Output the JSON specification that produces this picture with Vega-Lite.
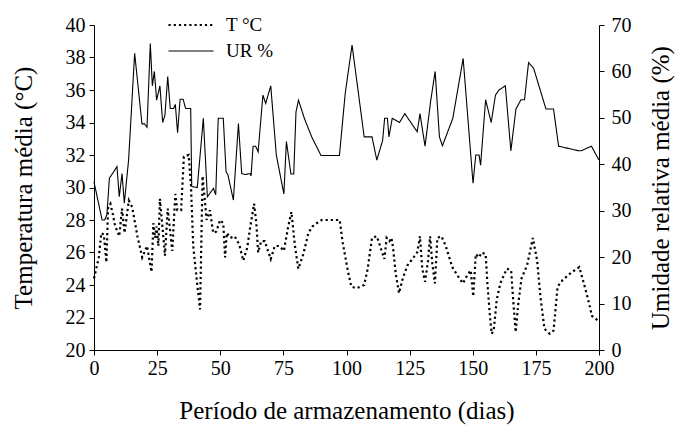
{
  "$schema": "https://vega.github.io/schema/vega-lite/v6.json",
  "width": 505,
  "height": 325,
  "autosize": {"type": "none"},
  "padding": {"left": 94, "top": 25, "right": 84, "bottom": 84},
  "background": "white",
  "config": {
    "view": {"stroke": null},
    "font": "Liberation Serif",
    "axis": {
      "grid": false,
      "domainColor": "black",
      "tickColor": "black",
      "labelColor": "black",
      "titleColor": "black",
      "labelFont": "Liberation Serif",
      "titleFont": "Liberation Serif",
      "labelFontSize": 20,
      "titleFontSize": 25,
      "titleFontWeight": "normal",
      "tickSize": 5,
      "domainWidth": 1,
      "tickWidth": 1,
      "labelFlush": false
    },
    "legend": {
      "labelFont": "Liberation Serif",
      "labelFontSize": 19,
      "labelColor": "black"
    }
  },
  "datasets": {
    "temp": [
      {"dia": 0, "T": 24.4}, {"dia": 1.9, "T": 25.7}, {"dia": 2.9, "T": 27.2}, {"dia": 3.9, "T": 27.1},
      {"dia": 4.9, "T": 25.4}, {"dia": 5.6, "T": 28.8}, {"dia": 6.5, "T": 29.0}, {"dia": 7.4, "T": 28.4},
      {"dia": 8.4, "T": 27.6}, {"dia": 9, "T": 27.4}, {"dia": 10, "T": 27.0}, {"dia": 11.1, "T": 28.7},
      {"dia": 12.1, "T": 27.2}, {"dia": 13.8, "T": 29.2}, {"dia": 15.1, "T": 28.8}, {"dia": 17.2, "T": 27.0},
      {"dia": 19.1, "T": 25.7}, {"dia": 21, "T": 26.4}, {"dia": 22.8, "T": 24.8}, {"dia": 23.5, "T": 27.8},
      {"dia": 24.2, "T": 26.9}, {"dia": 24.8, "T": 27.6}, {"dia": 25.5, "T": 26.4}, {"dia": 26.1, "T": 29.3},
      {"dia": 27.5, "T": 26.9}, {"dia": 28.1, "T": 25.8}, {"dia": 29.2, "T": 28.7}, {"dia": 30.1, "T": 27.4},
      {"dia": 31, "T": 26.1}, {"dia": 32.2, "T": 29.6}, {"dia": 33, "T": 28.6}, {"dia": 34.5, "T": 28.6},
      {"dia": 35.6, "T": 31.9}, {"dia": 37.5, "T": 32.0}, {"dia": 38.4, "T": 30.1}, {"dia": 39.3, "T": 26.4},
      {"dia": 40.9, "T": 24.0}, {"dia": 42, "T": 22.5}, {"dia": 43, "T": 30.7}, {"dia": 44.6, "T": 28.0},
      {"dia": 45.9, "T": 28.6}, {"dia": 47.2, "T": 27.2}, {"dia": 48.5, "T": 27.3}, {"dia": 49.9, "T": 28.0},
      {"dia": 51.2, "T": 27.8}, {"dia": 51.9, "T": 25.7}, {"dia": 52.6, "T": 27.2}, {"dia": 54, "T": 26.9},
      {"dia": 55.7, "T": 27.0}, {"dia": 57.5, "T": 26.5}, {"dia": 59.1, "T": 25.5}, {"dia": 60.7, "T": 26.3},
      {"dia": 61.7, "T": 27.4}, {"dia": 63.4, "T": 29.0}, {"dia": 64.3, "T": 27.8}, {"dia": 65, "T": 26.0},
      {"dia": 66.2, "T": 26.7}, {"dia": 67.6, "T": 26.7}, {"dia": 70, "T": 25.6}, {"dia": 71.6, "T": 26.4},
      {"dia": 73.4, "T": 26.4}, {"dia": 75.2, "T": 26.1}, {"dia": 76.8, "T": 27.5}, {"dia": 78.2, "T": 28.5},
      {"dia": 79.5, "T": 26.5}, {"dia": 80.9, "T": 25.0}, {"dia": 82.9, "T": 25.9}, {"dia": 84.9, "T": 27.2},
      {"dia": 86.5, "T": 27.6}, {"dia": 88.2, "T": 27.8}, {"dia": 90.2, "T": 28.0}, {"dia": 97.3, "T": 28.0},
      {"dia": 98.5, "T": 26.6}, {"dia": 100.5, "T": 24.9}, {"dia": 101.9, "T": 23.9}, {"dia": 104, "T": 23.8},
      {"dia": 107, "T": 24.0}, {"dia": 108.4, "T": 25.0}, {"dia": 110.1, "T": 26.9}, {"dia": 112, "T": 27.0},
      {"dia": 113.7, "T": 26.2}, {"dia": 115, "T": 25.6}, {"dia": 115.9, "T": 26.9}, {"dia": 117, "T": 26.7},
      {"dia": 117.8, "T": 26.9}, {"dia": 118.5, "T": 26.2}, {"dia": 119.5, "T": 24.7}, {"dia": 120.8, "T": 23.5},
      {"dia": 122.1, "T": 24.3}, {"dia": 124.1, "T": 25.2}, {"dia": 126.1, "T": 25.6}, {"dia": 128, "T": 26.0},
      {"dia": 129.1, "T": 27.0}, {"dia": 130, "T": 25.0}, {"dia": 131.1, "T": 24.2}, {"dia": 132.3, "T": 25.5},
      {"dia": 133.1, "T": 27.0}, {"dia": 134, "T": 25.3}, {"dia": 135, "T": 24.1}, {"dia": 136, "T": 26.9},
      {"dia": 137.6, "T": 27.0}, {"dia": 139.3, "T": 26.4}, {"dia": 141.9, "T": 25.1}, {"dia": 143.9, "T": 24.6},
      {"dia": 146.1, "T": 24.1}, {"dia": 147.8, "T": 24.6}, {"dia": 149.2, "T": 24.9}, {"dia": 150.2, "T": 23.3},
      {"dia": 151.2, "T": 25.9}, {"dia": 152.5, "T": 25.7}, {"dia": 153.5, "T": 26.0}, {"dia": 155.1, "T": 25.9},
      {"dia": 155.8, "T": 24.1}, {"dia": 156.8, "T": 22.1}, {"dia": 157.5, "T": 21.0}, {"dia": 158.3, "T": 21.2},
      {"dia": 159.5, "T": 23.1}, {"dia": 160.9, "T": 24.1}, {"dia": 163.5, "T": 25.0}, {"dia": 165.2, "T": 24.9},
      {"dia": 166, "T": 23.1}, {"dia": 167, "T": 21.1}, {"dia": 168, "T": 22.8}, {"dia": 169.3, "T": 24.4},
      {"dia": 171.5, "T": 25.2}, {"dia": 173.8, "T": 26.9}, {"dia": 175.5, "T": 25.5}, {"dia": 176.8, "T": 23.3},
      {"dia": 178.4, "T": 21.3}, {"dia": 180.5, "T": 21.0}, {"dia": 182, "T": 21.2}, {"dia": 183.6, "T": 23.9},
      {"dia": 185.6, "T": 24.3}, {"dia": 188.5, "T": 24.7}, {"dia": 190.3, "T": 24.9}, {"dia": 192.2, "T": 25.1},
      {"dia": 194, "T": 24.1}, {"dia": 195.7, "T": 23.1}, {"dia": 197.2, "T": 22.1}, {"dia": 199.7, "T": 21.8}
    ],
    "ur": [
      {"dia": 0, "UR": 36.2}, {"dia": 3.2, "UR": 28.0}, {"dia": 4.2, "UR": 28.0}, {"dia": 5.1, "UR": 29.1},
      {"dia": 6.1, "UR": 37.0}, {"dia": 9.1, "UR": 39.5}, {"dia": 10, "UR": 33.0}, {"dia": 11.1, "UR": 38.0},
      {"dia": 12, "UR": 31.6}, {"dia": 13.7, "UR": 40.9}, {"dia": 16.1, "UR": 63.9}, {"dia": 19, "UR": 48.7},
      {"dia": 20, "UR": 48.7}, {"dia": 21, "UR": 48.0}, {"dia": 22.3, "UR": 66.0}, {"dia": 23.1, "UR": 56.9},
      {"dia": 23.9, "UR": 60.0}, {"dia": 24.8, "UR": 53.8}, {"dia": 26.1, "UR": 56.9}, {"dia": 27.2, "UR": 49.0},
      {"dia": 28.1, "UR": 50.6}, {"dia": 29.2, "UR": 58.9}, {"dia": 30.2, "UR": 52.0}, {"dia": 31.5, "UR": 52.0},
      {"dia": 32.2, "UR": 52.9}, {"dia": 33.1, "UR": 46.8}, {"dia": 34.1, "UR": 54.0}, {"dia": 35.3, "UR": 54.0},
      {"dia": 36.3, "UR": 52.0}, {"dia": 38.3, "UR": 52.0}, {"dia": 38.7, "UR": 35.2}, {"dia": 40.9, "UR": 35.0},
      {"dia": 43.3, "UR": 49.9}, {"dia": 44.9, "UR": 33.0}, {"dia": 47.3, "UR": 34.8}, {"dia": 48.2, "UR": 33.4},
      {"dia": 49.2, "UR": 49.9}, {"dia": 51.2, "UR": 49.9}, {"dia": 52.3, "UR": 38.4}, {"dia": 53, "UR": 37.8},
      {"dia": 55.2, "UR": 32.3}, {"dia": 57.2, "UR": 48.8}, {"dia": 58.5, "UR": 38.0}, {"dia": 60, "UR": 37.8},
      {"dia": 61.8, "UR": 38.0}, {"dia": 62.2, "UR": 37.5}, {"dia": 63, "UR": 43.9}, {"dia": 64, "UR": 43.9},
      {"dia": 65, "UR": 42.7}, {"dia": 66.9, "UR": 54.9}, {"dia": 68, "UR": 53.1}, {"dia": 70, "UR": 56.9},
      {"dia": 72.2, "UR": 42.0}, {"dia": 75.2, "UR": 33.6}, {"dia": 76.2, "UR": 44.9}, {"dia": 78, "UR": 37.9},
      {"dia": 79.1, "UR": 37.9}, {"dia": 80, "UR": 51.3}, {"dia": 81, "UR": 53.8}, {"dia": 83.3, "UR": 49.9},
      {"dia": 86.3, "UR": 45.8}, {"dia": 89.9, "UR": 41.9}, {"dia": 97.2, "UR": 41.9}, {"dia": 99.5, "UR": 55.3},
      {"dia": 102.2, "UR": 65.7}, {"dia": 107, "UR": 45.9}, {"dia": 110.1, "UR": 45.9}, {"dia": 112, "UR": 40.9},
      {"dia": 114.3, "UR": 45.1}, {"dia": 115.1, "UR": 49.9}, {"dia": 116.2, "UR": 49.9}, {"dia": 116.8, "UR": 45.9},
      {"dia": 118.1, "UR": 49.9}, {"dia": 121, "UR": 49.0}, {"dia": 123.1, "UR": 50.9}, {"dia": 128, "UR": 47.0},
      {"dia": 129.1, "UR": 50.9}, {"dia": 131.1, "UR": 43.9}, {"dia": 133.3, "UR": 53.5}, {"dia": 135.1, "UR": 60.0},
      {"dia": 136.8, "UR": 45.9}, {"dia": 138, "UR": 44.0}, {"dia": 142.1, "UR": 49.9}, {"dia": 146.2, "UR": 62.8},
      {"dia": 150.1, "UR": 35.9}, {"dia": 151.2, "UR": 42.0}, {"dia": 152.5, "UR": 42.0}, {"dia": 153.1, "UR": 39.8},
      {"dia": 155.1, "UR": 53.9}, {"dia": 157.3, "UR": 49.0}, {"dia": 159, "UR": 54.9}, {"dia": 160.4, "UR": 56.0},
      {"dia": 162.9, "UR": 56.9}, {"dia": 165.1, "UR": 42.9}, {"dia": 167.1, "UR": 51.9}, {"dia": 169.1, "UR": 53.9},
      {"dia": 170.5, "UR": 53.9}, {"dia": 172.1, "UR": 61.9}, {"dia": 174.1, "UR": 60.7}, {"dia": 179, "UR": 51.9},
      {"dia": 182, "UR": 51.9}, {"dia": 184, "UR": 43.9}, {"dia": 192, "UR": 42.9}, {"dia": 193, "UR": 42.9},
      {"dia": 197, "UR": 43.9}, {"dia": 200, "UR": 40.9}
    ]
  },
  "encoding": {
    "x": {
      "field": "dia",
      "type": "quantitative",
      "scale": {"domain": [0, 200], "nice": false},
      "axis": {
        "title": "Período de armazenamento (dias)",
        "values": [0, 25, 50, 75, 100, 125, 150, 175, 200],
        "labelPadding": 3,
        "titleY": 60,
        "titleBaseline": "middle"
      }
    }
  },
  "layer": [
    {
      "data": {"name": "temp"},
      "transform": [{"calculate": "'T °C'", "as": "serie"}],
      "mark": {"type": "line", "color": "black", "strokeCap": "butt"},
      "encoding": {
        "y": {
          "field": "T",
          "type": "quantitative",
          "scale": {"domain": [20, 40], "nice": false, "zero": false},
          "axis": {
            "title": "Temperatura média (°C)",
            "values": [20, 22, 24, 26, 28, 30, 32, 34, 36, 38, 40],
            "labelPadding": 4,
            "titleX": -71,
            "titleY": 162.5,
            "titleAngle": -90,
            "titleAlign": "center",
            "titleBaseline": "middle"
          }
        },
        "strokeDash": {
          "field": "serie",
          "type": "nominal",
          "scale": {"domain": ["T °C", "UR %"], "range": [[2.2, 3], [1, 0]]},
          "legend": {
            "title": null,
            "orient": "none",
            "legendX": 73,
            "legendY": -10,
            "symbolType": "stroke",
            "symbolSize": 2025,
            "symbolStrokeColor": "black",
            "clipHeight": 20,
            "rowPadding": 6,
            "labelOffset": 11
          }
        },
        "strokeWidth": {
          "field": "serie",
          "type": "nominal",
          "scale": {"domain": ["T °C", "UR %"], "range": [2.2, 1.1]},
          "legend": {
            "title": null,
            "orient": "none",
            "legendX": 73,
            "legendY": -10,
            "symbolType": "stroke",
            "symbolSize": 2025,
            "symbolStrokeColor": "black",
            "clipHeight": 20,
            "rowPadding": 6,
            "labelOffset": 11
          }
        }
      }
    },
    {
      "data": {"name": "ur"},
      "transform": [{"calculate": "'UR %'", "as": "serie"}],
      "mark": {"type": "line", "color": "black"},
      "encoding": {
        "y": {
          "field": "UR",
          "type": "quantitative",
          "scale": {"domain": [0, 70], "nice": false},
          "axis": {
            "title": "Umidade relativa média (%)",
            "orient": "right",
            "values": [0, 10, 20, 30, 40, 50, 60, 70],
            "labelPadding": 7,
            "titleX": 61,
            "titleY": 162.5,
            "titleAngle": -90,
            "titleAlign": "center",
            "titleBaseline": "middle"
          }
        },
        "strokeDash": {"field": "serie", "type": "nominal"},
        "strokeWidth": {"field": "serie", "type": "nominal"}
      }
    }
  ],
  "resolve": {"scale": {"y": "independent"}}
}
